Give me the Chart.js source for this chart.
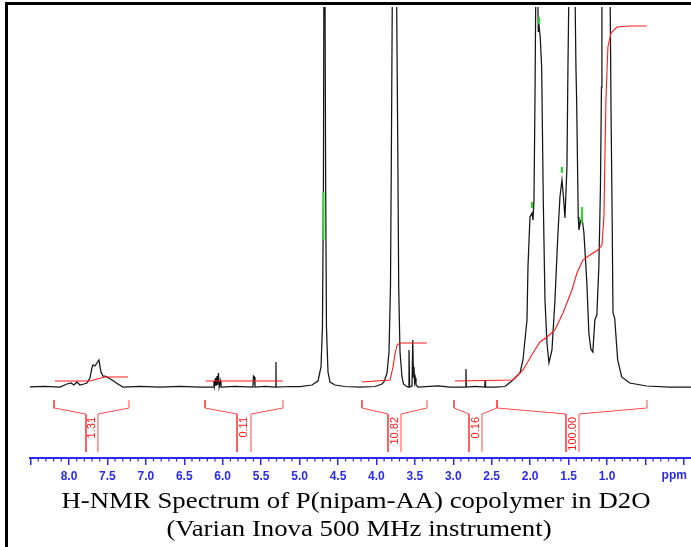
<!DOCTYPE html>
<html>
<head>
<meta charset="utf-8">
<script src="https://cdn.jsdelivr.net/npm/chart.js@4.4.1/dist/chart.umd.min.js"></script>
<style>
  body { margin: 0; background: #fff; }
  #wrap { position: relative; width: 691px; height: 547px; overflow: hidden; }
  #nmr { position: absolute; left: 0; top: 0; }
  #frame { position: absolute; left: 5px; top: 2px; width: 700px; height: 600px;
           border-left: 3px solid #000; border-top: 3px solid #000; pointer-events: none; }
</style>
</head>
<body>
<div id="wrap">
  <canvas id="nmr" width="691" height="547"></canvas>
  <div id="frame"></div>
</div>
<script>
// spectrum trace (ppm, intensity)
const specPpm = [8.507, 8.312, 8.117, 8.026, 7.974, 7.935, 7.896, 7.857, 7.805, 7.766, 7.727, 7.701, 7.688, 7.662, 7.636, 7.610, 7.584, 7.558, 7.532, 7.506, 7.441, 7.363, 7.298, 7.076, 6.816, 6.556, 6.296,
  6.120, 6.114, 6.107, 6.094, 6.087, 6.074, 6.068, 6.055, 6.046, 6.029, 6.022, 5.840, 5.606, 5.600, 5.587, 5.580, 5.450, 5.309, 5.307, 5.304, 5.125, 4.995,
  4.838, 4.760, 4.721, 4.702, 4.689, 4.678, 4.669, 4.660, 4.650, 4.630, 4.604, 4.539, 4.409, 4.214, 4.019,
  3.928, 3.902, 3.862, 3.836, 3.817, 3.804, 3.794, 3.765, 3.736, 3.723, 3.710, 3.693, 3.667, 3.648, 3.615,
  3.583, 3.576, 3.568, 3.537, 3.527, 3.518, 3.511, 3.503, 3.494, 3.485, 3.459, 3.199, 3.043, 2.840, 2.835, 2.830, 2.718, 2.590, 2.585, 2.580, 2.457, 2.327,
  2.223, 2.132, 2.093, 2.041, 2.028, 2.002, 1.976, 1.963, 1.950, 1.937, 1.924, 1.911, 1.901, 1.894, 1.882, 1.869, 1.850, 1.829, 1.807, 1.781, 1.755,
  1.716, 1.677, 1.638, 1.612, 1.586, 1.566, 1.547, 1.521, 1.508, 1.495, 1.456, 1.417, 1.404, 1.395, 1.374, 1.365, 1.345, 1.326, 1.300, 1.262, 1.236,
  1.210, 1.184, 1.158, 1.132, 1.106, 1.085, 1.072, 1.066, 1.014, 0.962, 0.948, 0.935, 0.922, 0.900, 0.861, 0.809, 0.705, 0.484, 0.185, -0.093];
const specInt = [0, 0.5, 0, 3, 4, 2, 5, 2, 3, 4, 9, 19, 22, 21, 24, 27, 15, 11, 11, 10, 7, 3, 0, 0.5, 0, 0.5, 0,
  0, 6, 1, 9, 1, 11, 2, 14, 0, 6, 0, 0.5, 0, 11, 10, 0, 0.5, 0, 25, 0, 0.5, 0.5,
  2, 6, 20, 60, 200, 600, 600, 200, 60, 15, 5, 2, 0.5, 0, 0.5,
  3, 5, 14, 35, 100, 250, 380, 900, 380, 250, 100, 35, 10, 3, 1,
  0, 37, 0, 1, 47, 10, 20, 5, 9, 2, 0, 1, 0, 0, 18, 0, 0.5, 0, 7, 0, 0, 0.5,
  7, 14, 27, 67, 120, 170, 174, 167, 187, 287, 420, 520, 400, 355, 360, 350, 320, 187, 87, 44, 24,
  37, 87, 154, 190, 207, 190, 169, 220, 320, 400, 600, 400, 320, 287, 170, 157, 165, 170, 154, 104, 54,
  38, 35, 67, 72, 120, 200, 300, 380, 700, 420, 280, 187, 74, 69, 27, 10, 4, 1, 0, 0];

// integral curves, null separates the regions
const intPpm = [8.182, 7.727, 7.636, 7.532, 7.232, null, 6.218, 5.216, null,
  4.188, 3.823, 3.784, 3.758, 3.732, 3.693, 3.342, null,
  2.978, 2.223, 2.093, 1.963, 1.872, 1.781, 1.677, 1.573, 1.456, 1.391, 1.313, 1.222, 1.118, 1.066, 1.040, 1.014, 0.988, 0.948, 0.870, 0.705, 0.484];
const intVal = [6, 6, 8, 10, 10, null, 6, 6, null,
  5, 7, 20, 33, 42, 44, 44, null,
  6, 7, 17, 34, 45, 50, 57, 74, 97, 114, 127, 132, 137, 142, 170, 287, 340, 354, 360, 361, 361];

// integral brackets and values
const brkOuterL = [8.195, 6.230, 4.188, 2.991, 2.431];
const brkInnerL = [7.779, 5.814, 3.850, 2.796, 1.534];
const brkInnerR = [7.623, 5.632, 3.680, 2.626, 1.364];
const brkOuterR = [7.219, 5.216, 3.342, 2.431, 0.480];
const intLabels = ['1.31', '0.11', '10.82', '0.16', '100.00'];

// peak-pick markers
const pickPpm = [4.689, 1.882, 1.976, 1.586, 1.326];
const pickLo = [147, 363, 179, 214, 164];
const pickHi = [195, 370, 185, 220, 180];

const tickLabelsShown = [8.0, 7.5, 7.0, 6.5, 6.0, 5.5, 5.0, 4.5, 4.0, 3.5, 3.0, 2.5, 2.0, 1.5, 1.0];

const axisBlue = '#2a2aee';
const intRed = '#ff1a1a';

const spectrum = specPpm.map((p, i) => ({x: p, y: specInt[i]}));
const integral = intPpm.map((p, i) => ({x: p, y: intVal[i]}));

const brackets = [];
brkOuterL.forEach((l, i) => {
  brackets.push({x: l, y: -13}, {x: l, y: -21}, {x: brkInnerL[i], y: -27}, {x: brkInnerL[i], y: -65}, {x: null, y: null});
  brackets.push({x: brkInnerR[i], y: -65}, {x: brkInnerR[i], y: -27}, {x: brkOuterR[i], y: -21}, {x: brkOuterR[i], y: -13}, {x: null, y: null});
});

const picks = [];
pickPpm.forEach((p, i) => {
  picks.push({x: p, y: pickLo[i]}, {x: p, y: pickHi[i]}, {x: null, y: null});
});

const extras = {
  id: 'extras',
  afterDraw(chart) {
    const ctx = chart.ctx;
    const xs = chart.scales.x;
    const ys = chart.scales.y;
    const yb = chart.chartArea.bottom;
    ctx.save();

    // minor ticks every 0.1 ppm
    ctx.strokeStyle = axisBlue;
    ctx.lineWidth = 1.2;
    for (let k = 0; k <= 85; k++) {
      if (k % 5 === 0) continue;
      const px = xs.getPixelForValue(k / 10);
      ctx.beginPath();
      ctx.moveTo(px, yb);
      ctx.lineTo(px, yb + 3.5);
      ctx.stroke();
    }

    // unit label
    ctx.fillStyle = axisBlue;
    ctx.font = 'bold 12px Arial, "Liberation Sans", sans-serif';
    ctx.textAlign = 'left';
    ctx.textBaseline = 'middle';
    ctx.fillText('ppm', xs.getPixelForValue(0.29), yb + 18);

    // integral values, rotated
    ctx.fillStyle = intRed;
    ctx.font = '11px Arial, "Liberation Sans", sans-serif';
    intLabels.forEach((t, i) => {
      const px = xs.getPixelForValue((brkInnerL[i] + brkInnerR[i]) / 2);
      const py = ys.getPixelForValue(-30);
      ctx.save();
      ctx.translate(px, py);
      ctx.rotate(-Math.PI / 2);
      ctx.textAlign = 'right';
      ctx.textBaseline = 'middle';
      ctx.fillText(t, 0, 0);
      ctx.restore();
    });

    // caption (the original is stretched sideways)
    ctx.fillStyle = '#000';
    ctx.font = '22.5px "Times New Roman", "Liberation Serif", serif';
    ctx.textAlign = 'center';
    ctx.textBaseline = 'alphabetic';
    ctx.save();
    ctx.translate(356, 508);
    ctx.scale(1.19, 1);
    ctx.fillText('H-NMR Spectrum of P(nipam-AA) copolymer in D2O', 0, 0);
    ctx.restore();
    ctx.save();
    ctx.translate(359, 536);
    ctx.scale(1.19, 1);
    ctx.fillText('(Varian Inova 500 MHz instrument)', 0, 0);
    ctx.restore();
    ctx.restore();
  }
};

new Chart(document.getElementById('nmr').getContext('2d'), {
  type: 'scatter',
  data: {
    datasets: [
      { data: picks, showLine: true, borderColor: '#22dd22', borderWidth: 2, pointRadius: 0, spanGaps: false },
      { data: integral, showLine: true, borderColor: intRed, borderWidth: 1.1, pointRadius: 0, spanGaps: false },
      { data: brackets, showLine: true, borderColor: '#ff4a4a', borderWidth: 1, pointRadius: 0, spanGaps: false },
      { data: spectrum, showLine: true, borderColor: '#151515', borderWidth: 1.25, pointRadius: 0 }
    ]
  },
  options: {
    responsive: false,
    animation: false,
    devicePixelRatio: 1,
    layout: { padding: { left: 30, right: 0, top: 7, bottom: 0 } },
    plugins: { legend: { display: false }, tooltip: { enabled: false }, title: { display: false } },
    scales: {
      x: {
        type: 'linear',
        reverse: true,
        min: -0.093,
        max: 8.507,
        afterFit(s) { s.height = 89; },
        border: { display: true, color: axisBlue, width: 2 },
        grid: { display: true, drawOnChartArea: false, drawTicks: true, tickLength: 7, color: axisBlue, lineWidth: 1.5 },
        ticks: {
          stepSize: 0.5,
          includeBounds: false,
          autoSkip: false,
          maxRotation: 0,
          padding: 4,
          color: axisBlue,
          font: { family: 'Arial, "Liberation Sans", sans-serif', size: 12, weight: 'bold' },
          callback: v => tickLabelsShown.some(t => Math.abs(t - v) < 1e-6) ? Number(v).toFixed(1) : ''
        }
      },
      y: { display: false, min: -71, max: 380 }
    }
  },
  plugins: [extras]
});
</script>
</body>
</html>
